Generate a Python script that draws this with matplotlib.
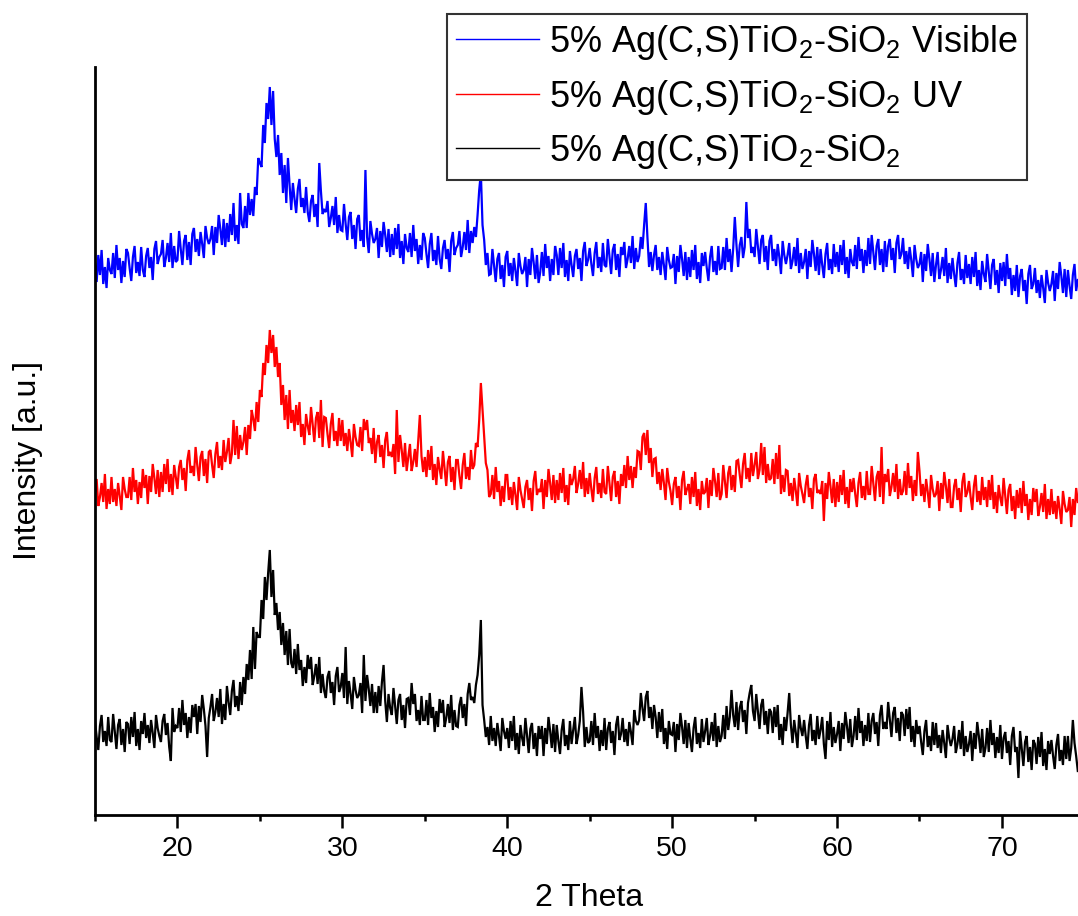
import numpy as np
import matplotlib
matplotlib.use("Agg")
import matplotlib.pyplot as plt
from matplotlib.ticker import MultipleLocator

# 2-theta sampling of the scans
two_theta_start = 15.0
two_theta_step = 0.1

# Intensities (a.u., stacked), one row per degree starting at 15.0
visible = [
    553, 533, 560, 540, 565, 531, 548, 527, 557, 545,
    541, 562, 537, 570, 545, 557, 532, 554, 538, 566,
    562, 547, 534, 558, 569, 542, 553, 539, 568, 545,
    538, 559, 567, 547, 558, 535, 566, 574, 551, 558,
    561, 575, 548, 557, 572, 553, 582, 547, 569, 553,
    555, 584, 566, 550, 574, 580, 555, 573, 550, 581,
    587, 563, 576, 559, 583, 571, 557, 589, 577, 571,
    576, 589, 560, 588, 572, 600, 586, 570, 596, 568,
    592, 573, 601, 580, 612, 574, 590, 571, 622, 591,
    587, 609, 587, 622, 600, 616, 599, 628, 620, 657,
    652, 648, 690, 672, 712, 696, 728, 690, 724, 676,
    658, 680, 640, 662, 622, 650, 612, 657, 630, 605,
    632, 616, 602, 626, 636, 608, 617, 602, 628, 603,
    593, 614, 620, 598, 611, 588, 652, 624, 601, 605,
    603, 614, 588, 597, 609, 590, 618, 582, 600, 585,
    584, 611, 591, 575, 598, 603, 576, 590, 566, 596,
    600, 574, 585, 568, 645, 578, 562, 594, 581, 572,
    576, 587, 557, 584, 568, 593, 580, 563, 586, 558,
    581, 560, 587, 566, 591, 557, 574, 551, 581, 567,
    563, 582, 558, 590, 564, 576, 551, 570, 555, 582,
    577, 561, 547, 571, 582, 554, 565, 550, 579, 556,
    546, 567, 575, 556, 566, 543, 574, 583, 560, 567,
    570, 584, 558, 568, 583, 565, 595, 562, 584, 572,
    588, 578, 600, 625, 642, 590, 575, 550, 562, 540,
    541, 566, 549, 533, 556, 562, 536, 550, 528, 558,
    564, 539, 552, 534, 557, 544, 529, 562, 549, 541,
    545, 558, 528, 556, 540, 567, 553, 536, 560, 532,
    543, 563, 539, 571, 547, 559, 534, 556, 540, 569,
    560, 540, 567, 547, 572, 538, 555, 534, 564, 550,
    538, 559, 566, 546, 557, 534, 564, 573, 549, 555,
    567, 551, 539, 562, 573, 547, 558, 543, 572, 550,
    548, 576, 558, 541, 565, 571, 545, 561, 538, 568,
    560, 573, 547, 556, 569, 552, 579, 546, 567, 553,
    559, 578, 566, 590, 612, 578, 548, 563, 544, 560,
    570, 545, 558, 540, 563, 550, 535, 568, 555, 547,
    548, 561, 531, 559, 543, 570, 556, 539, 563, 535,
    558, 538, 565, 545, 570, 536, 553, 532, 562, 549,
    563, 547, 534, 558, 569, 543, 554, 540, 569, 546,
    547, 568, 545, 577, 553, 566, 543, 566, 598, 570,
    548, 570, 578, 557, 568, 613, 577, 586, 562, 568,
    558, 586, 568, 551, 575, 580, 553, 569, 545, 574,
    580, 554, 566, 549, 571, 558, 541, 574, 560, 551,
    560, 572, 546, 554, 568, 549, 577, 542, 562, 546,
    553, 566, 536, 564, 548, 575, 561, 544, 568, 540,
    566, 550, 537, 561, 572, 545, 556, 541, 571, 548,
    563, 543, 570, 550, 575, 541, 558, 537, 566, 553,
    549, 570, 546, 578, 554, 566, 542, 565, 549, 577,
    551, 580, 562, 545, 569, 576, 550, 566, 543, 574,
    548, 569, 576, 555, 567, 542, 572, 580, 556, 561,
    577, 551, 564, 546, 568, 555, 538, 570, 556, 547,
    551, 563, 533, 561, 544, 571, 556, 539, 562, 533,
    550, 563, 536, 545, 558, 539, 567, 532, 552, 536,
    557, 541, 528, 552, 563, 535, 546, 531, 560, 537,
    551, 531, 558, 538, 563, 529, 545, 525, 554, 541,
    533, 561, 543, 526, 550, 556, 530, 545, 522, 552,
    534, 553, 529, 561, 536, 547, 520, 540, 524, 550,
    518, 539, 546, 524, 535, 511, 541, 550, 526, 531,
    547, 522, 535, 517, 540, 527, 512, 545, 532, 524,
    531, 544, 514, 542, 526, 553, 539, 522, 546, 518,
    545, 529, 516, 540, 551, 524, 535,
]

uv = [
    323, 336, 309, 318, 332, 313, 341, 306, 326, 311,
    338, 313, 326, 309, 332, 319, 305, 338, 326, 318,
    318, 338, 315, 347, 323, 335, 311, 333, 317, 346,
    327, 340, 311, 339, 323, 351, 337, 321, 345, 318,
    343, 323, 351, 331, 356, 323, 341, 320, 350, 338,
    326, 348, 355, 335, 347, 324, 355, 365, 342, 349,
    339, 368, 350, 334, 358, 364, 339, 356, 332, 363,
    365, 350, 337, 361, 373, 347, 359, 345, 375, 353,
    363, 377, 351, 361, 395, 360, 389, 356, 380, 365,
    373, 388, 360, 390, 376, 405, 396, 384, 413, 393,
    425, 418, 452, 440, 470, 452, 485, 462, 480, 448,
    468, 438, 452, 410, 430, 395, 420, 386, 425, 392,
    405, 384, 410, 390, 413, 378, 391, 370, 401, 389,
    380, 408, 390, 373, 397, 403, 377, 415, 368, 398,
    397, 381, 367, 391, 402, 374, 384, 369, 397, 374,
    395, 369, 382, 364, 386, 373, 358, 391, 378, 370,
    369, 388, 364, 396, 385, 395, 372, 377, 361, 387,
    352, 373, 380, 358, 370, 347, 375, 383, 359, 363,
    358, 371, 341, 405, 353, 380, 365, 348, 372, 344,
    358, 371, 344, 353, 366, 348, 374, 400, 359, 343,
    358, 338, 365, 345, 369, 335, 351, 330, 358, 346,
    336, 364, 346, 329, 353, 359, 333, 348, 325, 355,
    355, 339, 326, 350, 362, 336, 348, 335, 365, 346,
    350, 372, 368, 395, 432, 405, 378, 352, 345, 318,
    321, 340, 316, 348, 323, 334, 309, 329, 313, 340,
    340, 315, 328, 310, 333, 320, 305, 338, 325, 316,
    307, 328, 335, 315, 327, 304, 334, 344, 320, 326,
    323, 336, 306, 335, 318, 346, 332, 315, 340, 312,
    335, 315, 342, 322, 347, 313, 330, 310, 341, 330,
    336, 349, 322, 331, 345, 326, 353, 318, 337, 321,
    342, 326, 313, 337, 348, 321, 332, 317, 346, 323,
    321, 349, 331, 314, 338, 344, 318, 334, 311, 341,
    329, 350, 327, 359, 335, 349, 327, 348, 337, 364,
    363, 345, 378, 382, 360, 385, 352, 367, 338, 356,
    357, 331, 343, 325, 346, 332, 315, 347, 333, 324,
    310, 331, 338, 317, 329, 305, 335, 344, 320, 326,
    331, 311, 338, 318, 343, 309, 326, 305, 334, 321,
    323, 337, 307, 335, 319, 347, 334, 318, 342, 315,
    321, 350, 333, 317, 342, 349, 325, 340, 323, 354,
    355, 340, 327, 351, 362, 336, 347, 333, 362, 339,
    350, 363, 336, 345, 372, 340, 368, 332, 351, 335,
    337, 356, 331, 362, 336, 370, 321, 340, 323, 345,
    344, 319, 332, 314, 337, 324, 309, 342, 329, 321,
    312, 330, 340, 318, 327, 306, 336, 341, 322, 325,
    321, 334, 294, 332, 316, 343, 329, 312, 336, 308,
    333, 313, 340, 320, 345, 311, 328, 307, 336, 323,
    337, 321, 308, 332, 343, 317, 329, 315, 344, 321,
    321, 349, 331, 314, 338, 344, 318, 368, 311, 341,
    333, 346, 319, 328, 342, 323, 351, 316, 336, 320,
    324, 344, 320, 352, 327, 339, 314, 335, 319, 363,
    344, 319, 331, 313, 336, 323, 307, 340, 326, 318,
    321, 334, 304, 332, 316, 343, 329, 312, 336, 308,
    308, 329, 336, 315, 327, 303, 333, 342, 318, 323,
    334, 318, 305, 329, 340, 313, 324, 310, 338, 315,
    328, 308, 335, 315, 340, 306, 323, 302, 330, 317,
    309, 337, 319, 301, 325, 331, 304, 319, 296, 325,
    307, 327, 302, 334, 309, 321, 295, 316, 300, 327,
    313, 326, 299, 308, 322, 303, 331, 296, 316, 300,
    326, 301, 314, 296, 319, 306, 291, 324, 311, 303,
    305, 318, 288, 316, 300, 327, 313,
]

untreated = [
    94, 78, 65, 89, 100, 73, 84, 69, 98, 75,
    73, 101, 83, 66, 90, 96, 70, 86, 63, 93,
    91, 71, 98, 78, 103, 69, 86, 65, 94, 81,
    102, 77, 90, 72, 95, 82, 67, 100, 87, 79,
    73, 94, 101, 80, 92, 68, 54, 107, 83, 89,
    87, 107, 83, 115, 90, 102, 77, 98, 82, 110,
    98, 111, 81, 109, 93, 120, 106, 89, 58, 97,
    108, 121, 94, 103, 117, 98, 126, 91, 111, 95,
    129, 113, 100, 124, 135, 108, 119, 104, 133, 110,
    138, 121, 151, 135, 165, 136, 188, 146, 183, 178,
    178, 215, 196, 238, 215, 242, 265, 218, 245, 200,
    212, 185, 203, 170, 192, 160, 184, 150, 186, 152,
    147, 166, 141, 171, 145, 155, 129, 148, 132, 160,
    146, 158, 130, 139, 151, 131, 158, 122, 141, 124,
    117, 138, 144, 122, 133, 110, 139, 148, 123, 128,
    142, 117, 168, 111, 134, 121, 106, 138, 125, 117,
    120, 132, 102, 160, 114, 140, 126, 109, 131, 102,
    123, 102, 129, 109, 133, 150, 114, 93, 121, 107,
    100, 127, 109, 91, 115, 121, 95, 110, 87, 116,
    117, 100, 132, 111, 121, 94, 105, 90, 119, 95,
    95, 115, 90, 122, 97, 108, 83, 104, 88, 116,
    102, 115, 88, 97, 111, 92, 120, 85, 105, 89,
    88, 110, 118, 97, 111, 89, 121, 132, 115, 118,
    112, 130, 140, 160, 195, 110, 95, 78, 88, 70,
    99, 74, 87, 69, 92, 79, 64, 97, 84, 76,
    87, 67, 94, 74, 99, 65, 82, 61, 90, 77,
    69, 97, 79, 62, 86, 92, 66, 82, 59, 89,
    76, 89, 59, 87, 71, 98, 84, 67, 91, 63,
    90, 74, 61, 85, 96, 69, 80, 65, 94, 71,
    85, 98, 71, 80, 94, 128, 103, 68, 88, 72,
    74, 94, 70, 102, 77, 89, 64, 85, 69, 97,
    65, 86, 93, 72, 84, 60, 90, 99, 75, 81,
    97, 73, 86, 69, 93, 83, 70, 105, 94, 90,
    95, 122, 107, 94, 118, 124, 97, 108, 86, 110,
    98, 77, 103, 83, 106, 71, 87, 66, 94, 81,
    80, 93, 63, 91, 75, 102, 88, 71, 95, 67,
    92, 76, 63, 87, 98, 71, 82, 67, 96, 73,
    84, 97, 70, 79, 93, 74, 102, 68, 89, 73,
    79, 100, 76, 109, 85, 98, 125, 100, 88, 113,
    85, 107, 114, 93, 105, 81, 112, 122, 130, 104,
    94, 121, 103, 86, 110, 116, 90, 104, 81, 106,
    103, 82, 108, 88, 110, 75, 91, 70, 98, 84,
    102, 122, 90, 72, 95, 82, 67, 100, 87, 79,
    95, 79, 66, 90, 101, 74, 85, 70, 99, 76,
    85, 98, 71, 56, 94, 75, 103, 68, 88, 72,
    81, 94, 64, 92, 76, 103, 89, 72, 96, 68,
    79, 99, 75, 107, 82, 94, 69, 90, 74, 102,
    73, 94, 102, 81, 93, 69, 100, 110, 86, 93,
    86, 113, 95, 78, 102, 108, 82, 97, 74, 103,
    100, 79, 106, 86, 108, 73, 89, 68, 95, 81,
    89, 73, 60, 84, 95, 68, 79, 64, 93, 70,
    92, 67, 80, 62, 85, 72, 57, 90, 77, 69,
    76, 89, 62, 71, 85, 66, 94, 59, 79, 63,
    71, 84, 54, 82, 66, 93, 79, 62, 86, 58,
    67, 87, 63, 95, 70, 82, 57, 78, 62, 90,
    56, 77, 83, 62, 74, 50, 79, 88, 63, 68,
    37, 84, 66, 49, 73, 79, 53, 68, 45, 75,
    71, 51, 78, 58, 83, 49, 66, 45, 74, 61,
    75, 59, 46, 70, 81, 54, 65, 50, 79, 56,
    79, 54, 67, 95, 72, 59, 44,
]

labels = [
    "5% Ag(C,S)TiO$_2$-SiO$_2$ Visible",
    "5% Ag(C,S)TiO$_2$-SiO$_2$ UV",
    "5% Ag(C,S)TiO$_2$-SiO$_2$",
]
colors = ["#0000ff", "#ff0000", "#000000"]
x_ticks = [20, 30, 40, 50, 60, 70]

plt.rcParams["font.family"] = ["Liberation Sans", "DejaVu Sans"]
plt.rcParams["mathtext.fontset"] = "custom"
plt.rcParams["mathtext.rm"] = "Liberation Sans"
plt.rcParams["mathtext.it"] = "Liberation Sans:italic"
plt.rcParams["mathtext.bf"] = "Liberation Sans:bold"
plt.rcParams["mathtext.default"] = "regular"

W, H = 1078, 916
fig = plt.figure(figsize=(W / 100, H / 100), dpi=100)
ax = fig.add_axes([95 / W, 101 / H, 983 / W, 748 / H])

for y, color, label in zip([visible, uv, untreated], colors, labels):
    y = np.asarray(y, dtype=float)
    x = two_theta_start + two_theta_step * np.arange(len(y))
    ax.plot(x, y, color=color, lw=1.6, label=label, solid_joinstyle="miter")

ax.set_xlim(15, 15 + 983 / 16.49)
ax.set_ylim(0, 748)
ax.set_yticks([])
ax.set_xticks(x_ticks)
ax.xaxis.set_minor_locator(MultipleLocator(5))

for side in ("top", "right"):
    ax.spines[side].set_visible(False)
for side in ("left", "bottom"):
    ax.spines[side].set_linewidth(2.0)

ax.tick_params(axis="x", which="major", direction="out", length=9,
               width=1.8, labelsize=20.5, pad=6)
ax.tick_params(axis="x", which="minor", direction="out", length=4.5,
               width=1.8)

ax.set_xlabel("2 Theta", fontsize=23)
ax.xaxis.set_label_coords((589 - 95) / 983, (815 - 883) / 748)
ax.set_ylabel("Intensity [a.u.]", fontsize=23)
ax.yaxis.set_label_coords((43 - 95) / 983, (815 - 460) / 748)

leg = ax.legend(loc="upper left", bbox_to_anchor=(446.5 / W, 1 - 14 / H),
                bbox_transform=fig.transFigure, fontsize=26, frameon=True,
                fancybox=False, framealpha=1, edgecolor="#333333",
                borderpad=0.25, labelspacing=0.43, handlelength=2.3,
                handletextpad=0.3, borderaxespad=0)
leg.get_frame().set_linewidth(1.5)
for line in leg.get_lines():
    line.set_linewidth(1.0)

fig.savefig("out.png", dpi=100)
